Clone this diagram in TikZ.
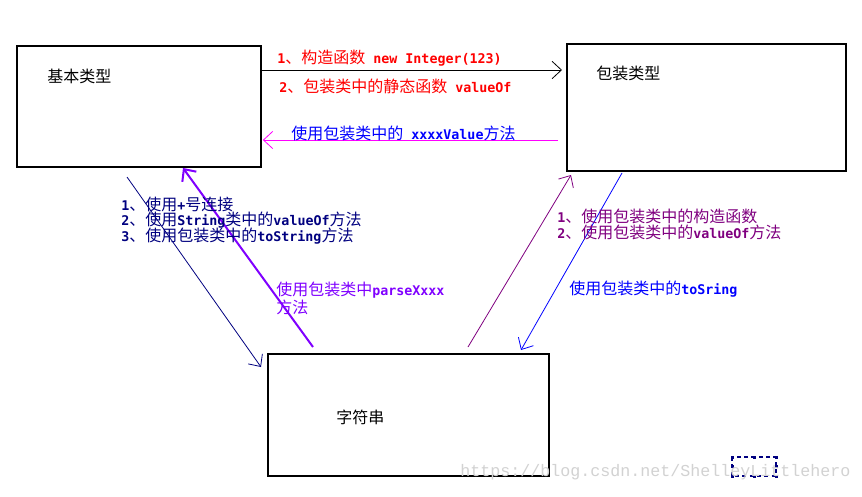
\documentclass[tikz,border=0pt]{standalone}
\usepackage{fontspec}
\setmainfont{Noto Sans CJK SC}
\newfontfamily\fxfont{DejaVu Sans Mono}
\newfontfamily\wmfont{Liberation Mono}
\newcommand\lt[1]{{\fontsize{10}{12}\fxfont\bfseries #1}}
\usetikzlibrary{arrows.meta}
\definecolor{navyc}{HTML}{000080}
\definecolor{violetc}{HTML}{8000FF}
\definecolor{purplec}{HTML}{800080}
\definecolor{magc}{HTML}{FF00FF}
\definecolor{bluec}{HTML}{0000FF}
\definecolor{redc}{HTML}{FF0000}
\tikzset{
  box/.style={draw=black, line width=1.5pt},
  lbl/.style={anchor=west, inner sep=0pt, font=\fontsize{12}{12}\selectfont},
  arr/.style={-{Straight Barb[length=7pt,width=13pt]}, line width=0.6pt},
}
\begin{document}
\begin{tikzpicture}[x=0.75pt,y=-0.75pt]
\useasboundingbox[fill=white] (0,0) rectangle (862,496);
% boxes
\draw[box] (17,46) rectangle (261,167);
\coordinate (b1nw) at (17,46);
\node[inner sep=0pt, minimum width=244*0.75pt, minimum height=121*0.75pt, anchor=north west] (b1) at (17,46) {};
\node[inner sep=0pt, minimum width=279*0.75pt, minimum height=127*0.75pt, anchor=north west, box] (b2) at (566,43) {};
\node[inner sep=0pt, minimum width=281*0.75pt, minimum height=122*0.75pt, anchor=north west, box] (b3) at (267,353) {};
% box titles
\node[lbl] (t1) at (47,76) {基本类型};
\node[lbl] (t2) at (596,73) {包装类型};
\node[lbl] (t3) at (336,417) {字符串};
% arrows
\draw[arr, black] (b1.east |- 0,70) -- ([xshift=-3pt]b2.west |- 0,70);
\draw[arr, magc] ([xshift=-6pt]b2.west |- 0,140) -- ([xshift=1pt]b1.east |- 0,140);
\coordinate (n1) at (127,177);
\coordinate (n2) at (261,367);
\draw[arr, navyc] (n1) -- (n2);
\coordinate (v1) at (313,347);
\coordinate (v2) at (183,168);
\draw[arr, violetc, line width=1.5pt] (v1) -- (v2);
\coordinate (p1) at (468,347);
\coordinate (p2) at (571,175);
\draw[arr, purplec] (p1) -- (p2);
\coordinate (q1) at (622,173);
\coordinate (q2) at (521,350);
\draw[arr, bluec] (q1) -- (q2);
% labels
\node[lbl, text=redc] (r1) at (277,58) {\lt{1}、构造函数\lt{ new Integer(123)}};
\node[lbl, text=redc] (r2) at (279,86) {\lt{2}、包装类中的静态函数\lt{ valueOf}};
\node[lbl, text=bluec] (m1) at (291,133) {使用包装类中的\lt{ xxxxValue}方法};
\node[lbl, text=navyc] (s1) at (121,204) {\lt{1}、使用\lt{+}号连接};
\node[lbl, text=navyc] (s2) at (121,220) {\lt{2}、使用\lt{String}类中的\lt{valueOf}方法};
\node[lbl, text=navyc] (s3) at (121,236) {\lt{3}、使用包装类中的\lt{toString}方法};
\node[lbl, text=violetc] (v3) at (276,290) {使用包装类中\lt{parseXxxx}};
\node[lbl, text=violetc] (v4) at (276,307) {方法};
\node[lbl, text=purplec] (u1) at (557,216) {\lt{1}、使用包装类中的构造函数};
\node[lbl, text=purplec] (u2) at (557,232) {\lt{2}、使用包装类中的\lt{valueOf}方法};
\node[lbl, text=bluec] (w1) at (569,289) {使用包装类中的\lt{toSring}};
% small dashed rectangle
\draw[navyc, dashed, line width=0.8pt, dash pattern=on 3pt off 2.5pt] (732,457) rectangle (776,476);
\foreach \px/\py in {732/457,754/457,776/457,732/466.5,776/466.5,732/476,754/476,776/476}
  \fill[navyc] (\px-1.5,\py-1.5) rectangle (\px+1.5,\py+1.5);
% watermark
\node[anchor=west, inner sep=0pt, text=gray!35, font=\wmfont\fontsize{12.5}{14}\selectfont] (wm) at (460,472) {https://blog.csdn.net/ShelleyLittlehero};
\end{tikzpicture}
\end{document}
